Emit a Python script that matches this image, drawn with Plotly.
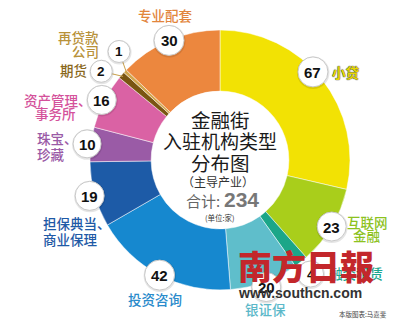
import math
import plotly.graph_objects as go

# ---------------- data ----------------
categories = ["小贷", "互联网金融", "融资租赁", "银证保", "投资咨询",
              "担保典当、商业保理", "珠宝、珍藏", "资产管理、事务所",
              "期货", "再贷款公司", "专业配套"]
values = [67, 23, 4, 20, 42, 19, 10, 16, 2, 1, 30]
slice_colors = ["#F2E204", "#A9CE1B", "#1BA688", "#5FBECB", "#1688CF",
                "#1D5BA7", "#9A5BA6", "#DA62A4", "#7A5512", "#D3A64C", "#EC873E"]
total_label = "234"

# ---------------- geometry (pixels) ----------------
W, H = 400, 325
CX, CY, R = 220, 160, 130
FONT = "Noto Sans CJK SC"

def px(x):
    return x / W

def py(y):
    return 1 - y / H

def ann(text, x, y, font, xanchor="center"):
    return dict(x=px(x), y=py(y), xref="paper", yref="paper", text=text,
                showarrow=False, xanchor=xanchor, yanchor="middle", font=font)

fig = go.Figure()
fig.add_trace(go.Pie(
    labels=categories, values=values, sort=False, direction="clockwise",
    rotation=0, hole=0.53, textinfo="none", hoverinfo="label+value",
    marker=dict(colors=slice_colors, line=dict(color="rgba(255,255,255,0.7)", width=0.7)),
    domain=dict(x=[px(CX - R), px(CX + R)], y=[py(CY + R), py(CY - R)]),
    showlegend=False,
))

# ---------------- number bubbles (computed from data) ----------------
ang_adj = [-5, 0, 0, 0, 0, 0, 0, 0, -4, 4, 0]
rad_fac = [0.985, 1.0, 1.12, 1.04, 1.0, 1.04, 1.03, 1.02, 1.14, 1.14, 1.0]
bub_d = [30, 29, 26, 29, 30, 29, 28, 29, 22, 22, 30]
leader = [False, False, False, False, False, False, False, False, True, True, False]

shapes = []
annotations = []
tot = sum(values)
cum = 0
for i, v in enumerate(values):
    mid = (cum + v / 2) / tot * 360
    cum += v
    a = math.radians(mid + ang_adj[i])
    bx = CX + R * rad_fac[i] * math.sin(a)
    by = CY - R * rad_fac[i] * math.cos(a)
    if leader[i]:
        m = math.radians(mid)
        ex = CX + (R - 2) * math.sin(m)
        ey = CY - (R - 2) * math.cos(m)
        shapes.append(dict(type="line", xref="paper", yref="paper", layer="above",
                           x0=px(bx), y0=py(by), x1=px(ex), y1=py(ey),
                           line=dict(color="#C9A04A", width=1)))
    r = bub_d[i] / 2
    shapes.append(dict(type="circle", xref="paper", yref="paper", layer="above",
                       x0=px(bx - r - 1), x1=px(bx + r + 1.5), y0=py(by + r + 2), y1=py(by - r - 0.5),
                       fillcolor="rgba(0,0,0,0.10)", line=dict(width=0)))
    shapes.append(dict(type="circle", xref="paper", yref="paper", layer="above",
                       x0=px(bx - r), x1=px(bx + r), y0=py(by + r), y1=py(by - r),
                       fillcolor="white", line=dict(color="#C8C8C8", width=1)))
    annotations.append(ann(f"<b>{v}</b>", bx, by + 0.5,
                           dict(family="Liberation Sans", size=15 if v >= 10 else 13.5, color="#111")))

# ---------------- category labels ----------------
label_lines = [
    ("专业配套", 165, 15, "center", "#E2853C"),
    ("再贷款", 101, 37, "right", "#B8923A"),
    ("公司", 101, 51, "right", "#B8923A"),
    ("期货", 89, 70, "right", "#8A681C"),
    ("资产管理、", 58, 100, "center", "#D4529B"),
    ("事务所", 55, 113, "center", "#D4529B"),
    ("珠宝、", 35, 138, "left", "#9A5AA6"),
    ("珍藏", 35, 154, "left", "#9A5AA6"),
    ("担保典当、", 41, 223, "left", "#1F5AA6"),
    ("商业保理", 41, 239, "left", "#1F5AA6"),
    ("投资咨询", 155, 299, "center", "#2A8BCB"),
    ("银证保", 265, 309, "center", "#5BB8C9"),
    ("融资租赁", 327, 273, "left", "#1BA68E"),
    ("互联网", 367, 222, "center", "#8DC21F"),
    ("金融", 367, 235, "center", "#8DC21F"),
]
for t, x, y, anc, col in label_lines:
    annotations.append(ann(t, x, y, dict(family=FONT, size=13.5, color=col, weight=500), anc))
annotations.append(ann("小贷", 330, 72,
                       dict(family=FONT, size=13.5, color="#EAD900", weight=600,
                            shadow="0 0 1px #333, 0 0 1px #333"), "left"))

# ---------------- centre text ----------------
center_lines = [
    ("金融街", 220, 119, 19.5, "#1A1A1A"),
    ("入驻机构类型", 220, 140, 19, "#1A1A1A"),
    ("分布图", 220, 162, 19.5, "#1A1A1A"),
    ("（主导产业）", 218, 181, 12, "#333333"),
    ("(单位:家)", 220, 217, 7.5, "#333333"),
]
for t, x, y, s, col in center_lines:
    annotations.append(ann(t, x, y, dict(family=FONT, size=s, color=col)))
annotations.append(ann("合计:", 222, 200, dict(family=FONT, size=15, color="#666666"), "right"))
annotations.append(ann(f"<b>{total_label}</b>", 222, 199,
                       dict(family="Liberation Sans", size=21, color="#777777"), "left"))

# ---------------- credit + watermark ----------------
annotations.append(ann("本版图表:马嘉斐", 389, 314, dict(family=FONT, size=6.5, color="#444444"), "right"))
annotations.append(ann("南方日報", 306, 265, dict(family=FONT, size=34, color="#C3272B", weight=900)))
annotations.append(ann("<b>www.southcn.com</b>", 300, 293,
                       dict(family="Liberation Sans", size=14, color="#333333")))

fig.update_layout(
    width=W, height=H, margin=dict(l=0, r=0, t=0, b=0),
    paper_bgcolor="white", plot_bgcolor="white",
    shapes=shapes, annotations=annotations, showlegend=False,
)
fig.write_html("out.html")
